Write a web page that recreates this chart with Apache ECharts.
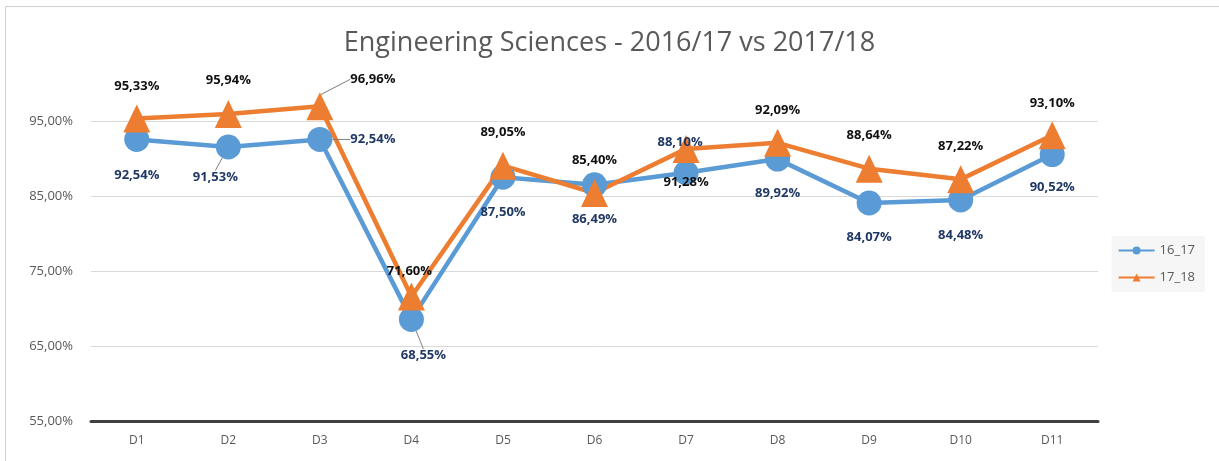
<!DOCTYPE html>
<html>
<head>
<meta charset="utf-8">
<script src="https://cdn.jsdelivr.net/npm/echarts@6/dist/echarts.min.js"></script>
<style>
  html, body { margin: 0; padding: 0; background: #fff; }
  #chart { width: 1219px; height: 461px; }
</style>
</head>
<body>
<div id="chart"></div>
<script>
// categories and values
const categories = ['D1', 'D2', 'D3', 'D4', 'D5', 'D6', 'D7', 'D8', 'D9', 'D10', 'D11']
const values1617 = [92.54, 91.53, 92.54, 68.55, 87.50, 86.49, 88.10, 89.92, 84.07, 84.48, 90.52]
const values1718 = [95.33, 95.94, 96.96, 71.60, 89.05, 85.40, 91.28, 92.09, 88.64, 87.22, 93.10]
const yTicks = [55, 65, 75, 85, 95]

// label shifts (px) from each marker centre, as placed in the original
const dx1617 = [0, -13, 53, 12, 0, 0, -6, 0, 0, 0, 0]
const dy1617 = [36, 30, 0, 36, 35, 34, -30, 34, 34, 35, 33]
const dx1718 = [0, 0, 53, -2, 0, 0, 0, 0, 0, 0, 0]
const dy1718 = [-32, -34, -27, -25, -33, -33, 33, -33, -33, -33, -32]
const leader1617 = [false, true, true, true, false, false, true, false, false, false, false]
const leader1718 = [false, false, true, false, false, false, true, false, false, false, false]

const fmt = v => v.toFixed(2).replace('.', ',') + '%'

const chart = echarts.init(document.getElementById('chart'))

const makeData = (vals, leaders) => vals.map((v, i) => leaders[i]
  ? { value: v, labelLine: { show: true, lineStyle: { color: '#7f7f7f', width: 1 } } }
  : v)

const option = {
  backgroundColor: '#fff',
  animation: false,
  title: {
    text: 'Engineering Sciences - 2016/17 vs 2017/18',
    left: 'center',
    top: 25,
    textStyle: {
      fontFamily: 'Open Sans',
      fontSize: 27,
      fontWeight: 'normal',
      color: '#595959'
    }
  },
  legend: {
    orient: 'vertical',
    right: 14,
    top: 236,
    itemGap: 14,
    itemWidth: 36,
    itemHeight: 10,
    padding: [8, 10, 8, 6],
    backgroundColor: '#f6f6f6',
    textStyle: { fontFamily: 'Open Sans', fontSize: 13, color: '#595959' },
    data: ['16_17', '17_18']
  },
  grid: {
    left: 91,
    right: 121,
    top: 121,
    bottom: 40
  },
  xAxis: {
    type: 'category',
    data: categories,
    axisTick: { show: false },
    axisLine: { lineStyle: { color: '#404040', width: 3 } },
    axisLabel: {
      margin: 14,
      fontFamily: 'Open Sans',
      fontSize: 12,
      color: '#595959'
    }
  },
  yAxis: {
    type: 'value',
    min: yTicks[0],
    max: yTicks[yTicks.length - 1],
    interval: 10,
    axisLine: { show: false },
    axisTick: { show: false },
    axisLabel: {
      margin: 18,
      fontFamily: 'Open Sans',
      fontSize: 13,
      color: '#595959',
      formatter: fmt
    },
    splitLine: { lineStyle: { color: '#d9d9d9', width: 1 } }
  },
  series: [
    {
      name: '16_17',
      type: 'line',
      clip: false,
      data: makeData(values1617, leader1617),
      symbol: 'circle',
      symbolSize: 25,
      lineStyle: { color: '#5b9bd5', width: 4.5 },
      itemStyle: { color: '#5b9bd5' },
      label: {
        show: true,
        position: 'inside',
        formatter: p => fmt(p.value),
        fontFamily: 'Open Sans',
        fontWeight: 'bold',
        fontSize: 13,
        color: '#203864'
      },
      labelLayout: p => ({ dx: dx1617[p.dataIndex], dy: dy1617[p.dataIndex] })
    },
    {
      name: '17_18',
      type: 'line',
      clip: false,
      data: makeData(values1718, leader1718),
      symbol: 'triangle',
      symbolSize: [27, 28],
      lineStyle: { color: '#ed7d31', width: 4.5 },
      itemStyle: { color: '#ed7d31' },
      label: {
        show: true,
        position: 'inside',
        formatter: p => fmt(p.value),
        fontFamily: 'Open Sans',
        fontWeight: 'bold',
        fontSize: 13,
        color: '#111'
      },
      labelLayout: p => ({ dx: dx1718[p.dataIndex], dy: dy1718[p.dataIndex] })
    }
  ],
  graphic: [
    { type: 'line', shape: { x1: 5.5, y1: 6.5, x2: 1219, y2: 6.5 }, style: { stroke: '#d0d0d0', lineWidth: 1 } },
    { type: 'line', shape: { x1: 5.5, y1: 6.5, x2: 5.5, y2: 461 }, style: { stroke: '#d0d0d0', lineWidth: 1 } }
  ]
}

chart.setOption(option)
</script>
</body>
</html>
